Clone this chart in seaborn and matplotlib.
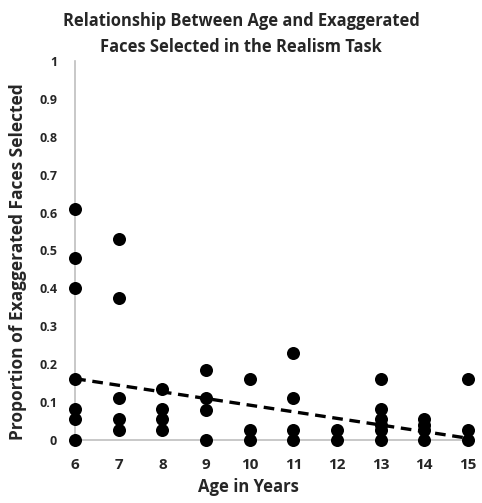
import numpy as np
import pandas as pd
import matplotlib as mpl

mpl.use('Agg')

import matplotlib.pyplot as plt
import seaborn as sns

# values
age_6 = [0.61, 0.48, 0.40, 0.16, 0.083, 0.056, 0.0]
age_7 = [0.53, 0.375, 0.11, 0.056, 0.028]
age_8 = [0.135, 0.083, 0.056, 0.028]
age_9 = [0.185, 0.11, 0.08, 0.0]
age_10 = [0.16, 0.028, 0.0]
age_11 = [0.23, 0.11, 0.028, 0.0]
age_12 = [0.028, 0.0]
age_13 = [0.16, 0.083, 0.056, 0.04, 0.028, 0.0]
age_14 = [0.056, 0.04, 0.028, 0.0]
age_15 = [0.16, 0.028, 0.0]

ages = [6, 7, 8, 9, 10, 11, 12, 13, 14, 15]
groups = [age_6, age_7, age_8, age_9, age_10, age_11, age_12, age_13, age_14, age_15]

# ends of the linear trend line shown in the chart
trend_age = [6, 15]
trend_prop = [0.162, 0.005]

y_ticks = [0, 0.1, 0.2, 0.3, 0.4, 0.5, 0.6, 0.7, 0.8, 0.9, 1]
y_tick_labels = ['0', '0.1', '0.2', '0.3', '0.4', '0.5', '0.6', '0.7', '0.8', '0.9', '1']

df = pd.DataFrame({
    'age': [a for a, g in zip(ages, groups) for _ in g],
    'prop': [v for g in groups for v in g],
})
trend = pd.DataFrame({'age': trend_age, 'prop': trend_prop})

sns.set_style('white')
plt.rcParams['font.family'] = ['Open Sans', 'DejaVu Sans']

fig = plt.figure(figsize=(4.82, 5.03), dpi=100)
ax = fig.add_axes([0.156, 0.125, 0.815, 0.754])

# scatter points
sns.scatterplot(data=df, x='age', y='prop', ax=ax, color='black', s=88,
                edgecolor='black', linewidth=0, clip_on=False, zorder=3)

# linear trend line
sns.lineplot(data=trend, x='age', y='prop', ax=ax, color='black',
             linestyle=(0, (3.2, 2.0)), linewidth=2.4, zorder=4)

ax.set_xlim(6, 15)
ax.set_ylim(0, 1)
ax.set_xticks(ages)
ax.set_xticklabels([str(a) for a in ages], fontsize=11, fontweight='bold')
ax.set_yticks(y_ticks)
ax.set_yticklabels(y_tick_labels, fontsize=9, fontweight='bold')
ax.tick_params(axis='x', length=0, pad=13)
ax.tick_params(axis='y', length=0, pad=13)

for side in ['top', 'right']:
    ax.spines[side].set_visible(False)
for side in ['left', 'bottom']:
    ax.spines[side].set_color('#bfbfbf')
    ax.spines[side].set_linewidth(1.2)

ax.set_xlabel('Age in Years', fontsize=12, fontweight='bold', va='top')
ax.xaxis.set_label_coords(0.44, -0.1)
ax.set_ylabel('Proportion of Exaggerated Faces Selected', fontsize=12.5,
              fontweight='bold')
ax.yaxis.set_label_coords(-0.122, 0.47)

fig.suptitle('Relationship Between Age and Exaggerated\nFaces Selected in the Realism Task',
             x=0.5, y=0.977, fontsize=11.9, fontweight='bold', linespacing=1.6)

plt.savefig('out.png', dpi=100)
